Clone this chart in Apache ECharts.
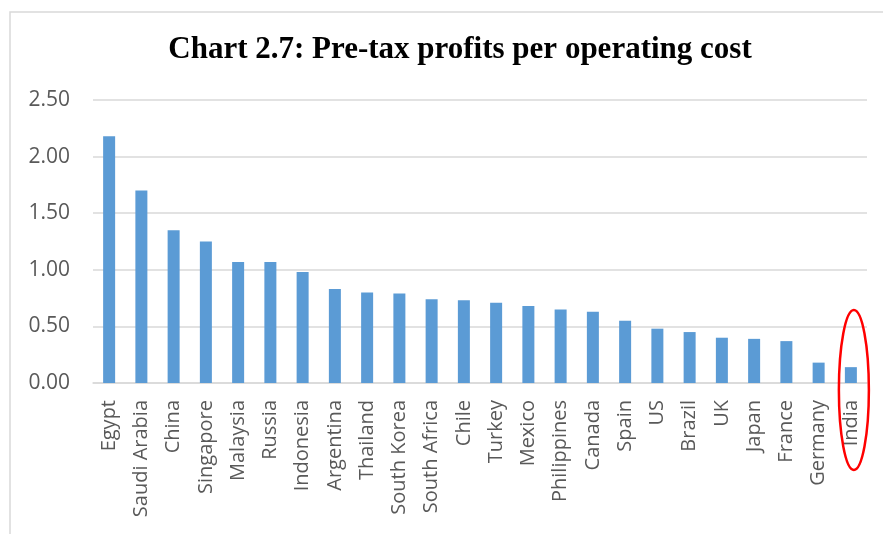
<!DOCTYPE html>
<html>
<head>
<meta charset="utf-8">
<script src="https://cdn.jsdelivr.net/npm/echarts@6/dist/echarts.min.js"></script>
<style>
  html, body { margin: 0; padding: 0; background: #fff; }
  #chart { width: 883px; height: 534px; }
</style>
</head>
<body>
<div id="chart"></div>
<script>
var countries = ['Egypt', 'Saudi Arabia', 'China', 'Singapore', 'Malaysia', 'Russia',
    'Indonesia', 'Argentina', 'Thailand', 'South Korea', 'South Africa', 'Chile',
    'Turkey', 'Mexico', 'Philippines', 'Canada', 'Spain', 'US', 'Brazil', 'UK',
    'Japan', 'France', 'Germany', 'India'];
var profitRatio = [2.18, 1.70, 1.35, 1.25, 1.07, 1.07, 0.98, 0.83, 0.80, 0.79, 0.74, 0.73,
    0.71, 0.68, 0.65, 0.63, 0.55, 0.48, 0.45, 0.40, 0.39, 0.37, 0.18, 0.14];
var highlighted = 'India';

var myChart = echarts.init(document.getElementById('chart'));
var option = {
    animation: false,
    title: {
        text: 'Chart 2.7: Pre-tax profits per operating cost',
        left: 455,
        textAlign: 'center',
        top: 29,
        textStyle: {
            fontFamily: 'Liberation Serif',
            fontWeight: 'bold',
            fontSize: 31,
            color: '#000'
        }
    },
    grid: {
        left: 93,
        right: 16,
        top: 100,
        bottom: 151
    },
    xAxis: {
        type: 'category',
        data: countries,
        axisLine: { lineStyle: { color: '#d9d9d9', width: 1.5 } },
        axisTick: { show: false },
        axisLabel: {
            rotate: 90,
            interval: 0,
            margin: 17,
            color: '#595959',
            fontFamily: 'Open Sans',
            fontSize: 20
        }
    },
    yAxis: {
        type: 'value',
        min: 0,
        max: 2.5,
        interval: 0.5,
        axisLine: { show: false },
        axisTick: { show: false },
        splitLine: { lineStyle: { color: '#d9d9d9', width: 1.5 } },
        axisLabel: {
            margin: 23,
            color: '#595959',
            fontFamily: 'Open Sans',
            fontSize: 21,
            formatter: function (v) { return v.toFixed(2); }
        }
    },
    series: [{
        type: 'bar',
        data: profitRatio,
        barWidth: 12,
        itemStyle: { color: '#5b9bd5' }
    }],
    graphic: []
};
myChart.setOption(option);

// frame of the chart area and the red ring round the highlighted country
var idx = countries.indexOf(highlighted);
var cx = myChart.convertToPixel({ xAxisIndex: 0 }, countries[idx]) + 3;
myChart.setOption({
    graphic: [
        {
            type: 'rect',
            shape: { x: 10, y: 12, width: 900, height: 560 },
            style: { fill: 'none', stroke: '#d9d9d9', lineWidth: 1.5 },
            silent: true
        },
        {
            type: 'ellipse',
            shape: { cx: cx, cy: 390, rx: 15, ry: 80 },
            style: { fill: 'none', stroke: '#ff0000', lineWidth: 2.5 },
            z: 10
        }
    ]
});
window.onresize = function () {
    myChart.resize();
};
</script>
</body>
</html>
